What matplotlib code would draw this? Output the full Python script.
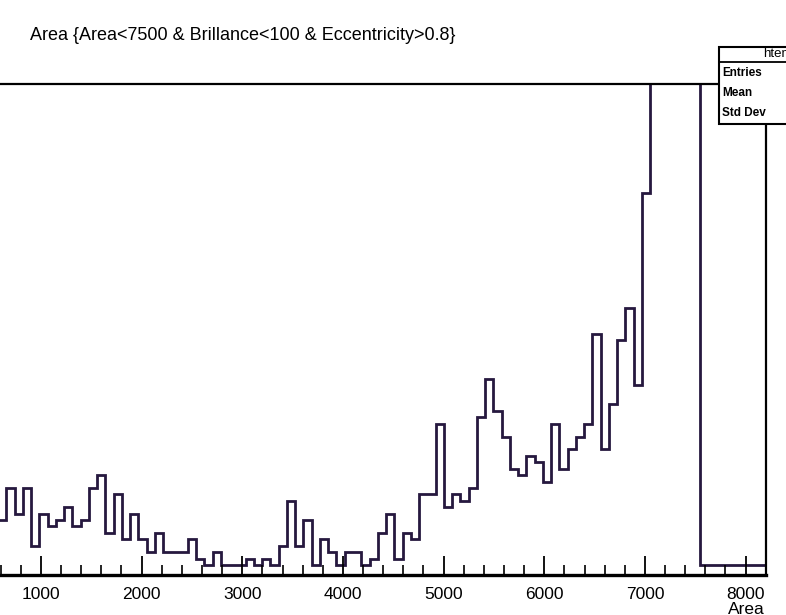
import numpy as np
import matplotlib
matplotlib.use("Agg")
import matplotlib.pyplot as plt
from matplotlib.patches import Rectangle
from matplotlib.lines import Line2D
from matplotlib.ticker import MultipleLocator
from matplotlib import font_manager

names = {f.name for f in font_manager.fontManager.ttflist}
NARROW = 'Liberation Sans Narrow' in names
plt.rcParams['font.family'] = ['Liberation Sans', 'DejaVu Sans']

# ---- data (histogram htemp: 100 bins from 0 to 8200, bin width 82) ----
x_min = 0
x_max = 8200
bin_width = 82
first_bin = 7          # first bin visible in the (cropped) picture
counts = [7, 12, 8, 12, 3, 8, 6, 7, 9, 6, 7, 12, 14, 5, 11, 4, 8, 4, 2, 5,
          2, 2, 2, 4, 1, 0, 2, 0, 0, 0, 1, 0, 1, 0, 3, 10, 3, 7, 0, 4,
          2, 0, 2, 2, 0, 1, 5, 8, 1, 5, 4, 11, 11, 22, 9, 11, 10, 12, 23, 29,
          24, 20, 15, 14, 17, 16, 13, 22, 15, 18, 20, 22, 36, 18, 25, 35, 40, 28, 58,
          100, 100, 100, 100, 100, 100,
          0, 0, 0, 0, 0, 0, 0, 0]
xticks = [1000, 2000, 3000, 4000, 5000, 6000, 7000, 8000]
xtick_labels = ['1000', '2000', '3000', '4000', '5000', '6000', '7000', '8000']
title = "Area {Area<7500 & Brillance<100 & Eccentricity>0.8}"
x_title = "Area"
stat_name = "htemp"
stat_rows = ["Entries", "Mean", "Std Dev"]

W, H = 786, 615
fig = plt.figure(figsize=(W / 100, H / 100), dpi=100)
fig.patch.set_facecolor('white')

if NARROW:
    tfam = ['Liberation Sans Narrow', 'DejaVu Sans']
    title_size, tick_size, stat_size = 15.8, 14.5, 10.0
else:
    tfam = ['Liberation Sans', 'DejaVu Sans']
    title_size, tick_size, stat_size = 13.0, 12.5, 8.5

def fx(px):
    return px / W

def fy(py):
    return 1 - py / H

# axes frame (left part is cropped out of the picture)
left_px, right_px, top_px, bot_px = -59.7, 765.7, 84, 575
ax = fig.add_axes([fx(left_px), fy(bot_px), (right_px - left_px) / W, (bot_px - top_px) / H])
ax.set_xlim(x_min, x_max)
ax.set_ylim(-1.56, 74.9)

edges = x_min + bin_width * np.arange(first_bin, first_bin + len(counts) + 1)
ax.stairs(counts, edges, baseline=0, color='#26183f', lw=2.0)

for s in ['top', 'right', 'left']:
    ax.spines[s].set_linewidth(1.6)
ax.spines['bottom'].set_linewidth(2.4)
ax.set_yticks([])
ax.set_xticks(xticks)
ax.set_xticklabels(xtick_labels, family=tfam)
ax.xaxis.set_minor_locator(MultipleLocator(200))
ax.tick_params(axis='x', which='major', direction='in', length=14, width=1.3,
               labelsize=tick_size, pad=8.5)
ax.tick_params(axis='x', which='minor', direction='in', length=7, width=1.2)

# axis title at the right end
fig.text(fx(765), fy(610), x_title, ha='right', va='center', fontsize=tick_size,
         family=tfam)

# histogram title
fig.text(fx(30), fy(36), title, ha='left', va='center', fontsize=title_size,
         family=tfam)

# stat box (cropped on the right)
box = Rectangle((fx(719), fy(124)), fx(900) - fx(719), fy(47) - fy(124),
                transform=fig.transFigure, facecolor='white', edgecolor='black',
                lw=1.5, zorder=10)
fig.add_artist(box)
fig.add_artist(Line2D([fx(719), fx(900)], [fy(62), fy(62)], transform=fig.transFigure,
                      color='black', lw=1.3, zorder=11))
fig.text(fx(763), fy(54.5), stat_name, ha='left', va='center', fontsize=stat_size + 1,
         family=tfam, zorder=12)
for i, r in enumerate(stat_rows):
    fig.text(fx(722), fy(73 + 20 * i), r, ha='left', va='center', fontsize=stat_size,
             fontweight='bold', family=tfam, zorder=12)

fig.savefig('out.png', dpi=100)
